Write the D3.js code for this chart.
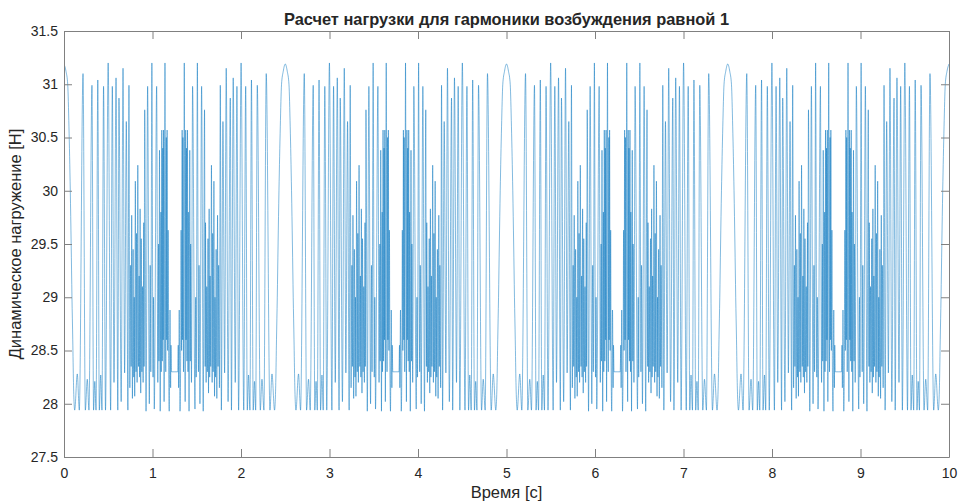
<!DOCTYPE html>
<html>
<head>
<meta charset="utf-8">
<script src="https://cdn.jsdelivr.net/npm/d3@7"></script>
<style>
  html, body { margin: 0; padding: 0; background: #ffffff; }
  svg { display: block; }
  text { font-family: "Liberation Sans", Arial, Helvetica, sans-serif; fill: #262626; }
</style>
</head>
<body>
<svg id="chart" width="959" height="501"></svg>
<script>
// Turning points of the load over one half-cycle (0 .. 1.25 s): time [s] and load [N].
// The load cycle is symmetric about its midpoint and repeats every 2.5 s.
const halfCycleTime = [
  0.000, 0.023, 0.042, 0.056, 0.071, 0.081, 0.090, 0.099, 0.107, 0.121,
  0.150, 0.173, 0.215, 0.241, 0.263, 0.282, 0.316, 0.334, 0.348, 0.362,
  0.382, 0.399, 0.415, 0.429, 0.447, 0.469, 0.499, 0.527, 0.546, 0.565,
  0.588, 0.608, 0.621, 0.646, 0.667, 0.685, 0.704, 0.722,
  0.734, 0.744, 0.753, 0.759, 0.765, 0.773, 0.781, 0.788, 0.794, 0.799,
  0.806, 0.814, 0.820, 0.826, 0.834, 0.842, 0.849, 0.854, 0.860, 0.867,
  0.873, 0.880, 0.887, 0.894, 0.901, 0.905, 0.912, 0.927, 0.945, 0.964,
  0.974, 0.981, 0.993, 1.006, 1.012, 1.020, 1.047, 1.060, 1.069, 1.073,
  1.079, 1.087, 1.095, 1.099, 1.105, 1.111, 1.116, 1.121, 1.125, 1.131,
  1.141, 1.150, 1.156, 1.160, 1.165, 1.171, 1.177, 1.182, 1.189, 1.198,
  1.205, 1.209, 1.215, 1.250
];
const halfCycleLoad = [
  31.19, 31.12, 31.00, 30.60, 30.00, 29.50, 29.00, 28.60, 28.20, 27.94,
  28.28, 27.94, 31.10, 27.94, 28.23, 27.94, 30.99, 27.94, 28.21, 27.94,
  31.04, 27.94, 28.27, 27.94, 30.98, 27.94, 31.20, 27.94, 30.98, 28.20,
  31.06, 27.94, 30.87, 28.02, 31.15, 28.29, 30.65, 27.94,
  30.99, 28.15, 29.30, 28.35, 29.77, 28.05, 29.45, 28.25, 29.00, 28.07,
  30.09, 28.30, 29.60, 28.20, 30.24, 28.35, 29.20, 28.25, 29.83, 28.10,
  29.55, 28.30, 29.10, 28.20, 29.70, 28.35, 30.76, 27.93, 30.98, 28.00,
  29.30, 28.30, 31.20, 28.25, 29.00, 27.95, 30.98, 28.20, 29.50, 28.40,
  30.38, 27.93, 29.80, 28.30, 30.57, 28.40, 30.40, 28.60, 30.57, 28.02,
  31.20, 28.30, 30.50, 28.60, 30.57, 28.50, 29.63, 28.40, 27.93, 28.88,
  28.15, 28.55, 28.30, 28.30
];
const cyclePeriod = 2.5;
const cycleCount = 4;

// Axis ticks
const xTicks = [0, 1, 2, 3, 4, 5, 6, 7, 8, 9, 10];
const yTicks = [27.5, 28, 28.5, 29, 29.5, 30, 30.5, 31, 31.5];

const titleText = "Расчет нагрузки для гармоники возбуждения равной 1";
const xLabelText = "Время [с]";
const yLabelText = "Динамическое нагружение [Н]";

// Assemble one full cycle (rising half mirrored), then chain the cycles.
const cycle = [];
halfCycleTime.forEach((t, i) => cycle.push([t, halfCycleLoad[i]]));
for (let i = halfCycleTime.length - 2; i >= 0; i--) {
  cycle.push([cyclePeriod - halfCycleTime[i], halfCycleLoad[i]]);
}
const series = [];
for (let k = 0; k < cycleCount; k++) {
  cycle.forEach((p, i) => {
    if (k > 0 && i === 0) return;
    series.push([p[0] + k * cyclePeriod, p[1]]);
  });
}

const svg = d3.select("#chart");
const plot = { left: 64, right: 949, top: 31, bottom: 457 };

const x = d3.scaleLinear().domain([0, 10]).range([plot.left, plot.right]);
const y = d3.scaleLinear().domain([27.5, 31.5]).range([plot.bottom, plot.top]);

const axisColor = "#808080";
const tickLen = 8;

// Load curve
const clipId = "plot-clip";
svg.append("clipPath").attr("id", clipId)
  .append("rect")
  .attr("x", plot.left).attr("y", plot.top)
  .attr("width", plot.right - plot.left).attr("height", plot.bottom - plot.top);

const line = d3.line()
  .x(d => x(d[0]))
  .y(d => y(d[1]))
  .curve(d3.curveMonotoneX);

svg.append("path")
  .datum(series)
  .attr("clip-path", `url(#${clipId})`)
  .attr("fill", "none")
  .attr("stroke", "#0072BD")
  .attr("stroke-width", 0.55)
  .attr("stroke-opacity", 0.9)
  .attr("stroke-linejoin", "round")
  .attr("d", line);

// Axes: ticks point inward on all four sides
function styleAxis(g) {
  g.select(".domain").attr("stroke", axisColor).attr("stroke-width", 1);
  g.selectAll(".tick line").attr("stroke", axisColor).attr("stroke-width", 1);
  g.selectAll(".tick text")
    .attr("fill", "#262626")
    .style("font-size", "14px");
}

const fmt = d => String(d);

const xBottom = svg.append("g")
  .attr("transform", `translate(0,${plot.bottom})`)
  .call(d3.axisBottom(x).tickValues(xTicks).tickFormat(fmt)
    .tickSizeInner(-tickLen).tickSizeOuter(0).tickPadding(11));
styleAxis(xBottom);

const xTop = svg.append("g")
  .attr("transform", `translate(0,${plot.top})`)
  .call(d3.axisTop(x).tickValues(xTicks).tickFormat("")
    .tickSizeInner(-tickLen).tickSizeOuter(0));
styleAxis(xTop);

const yLeft = svg.append("g")
  .attr("transform", `translate(${plot.left},0)`)
  .call(d3.axisLeft(y).tickValues(yTicks).tickFormat(fmt)
    .tickSizeInner(-tickLen).tickSizeOuter(0).tickPadding(6));
styleAxis(yLeft);

const yRight = svg.append("g")
  .attr("transform", `translate(${plot.right},0)`)
  .call(d3.axisRight(y).tickValues(yTicks).tickFormat("")
    .tickSizeInner(-tickLen).tickSizeOuter(0));
styleAxis(yRight);

// Title and axis labels
svg.append("text")
  .attr("x", (plot.left + plot.right) / 2)
  .attr("y", 25)
  .attr("text-anchor", "middle")
  .style("font-size", "16.4px")
  .style("font-weight", "bold")
  .attr("fill", "#000000")
  .text(titleText);

svg.append("text")
  .attr("x", (plot.left + plot.right) / 2)
  .attr("y", 498)
  .attr("text-anchor", "middle")
  .style("font-size", "16.5px")
  .text(xLabelText);

svg.append("text")
  .attr("transform", `translate(21,${(plot.top + plot.bottom) / 2}) rotate(-90)`)
  .attr("text-anchor", "middle")
  .style("font-size", "16.5px")
  .text(yLabelText);
</script>
</body>
</html>
